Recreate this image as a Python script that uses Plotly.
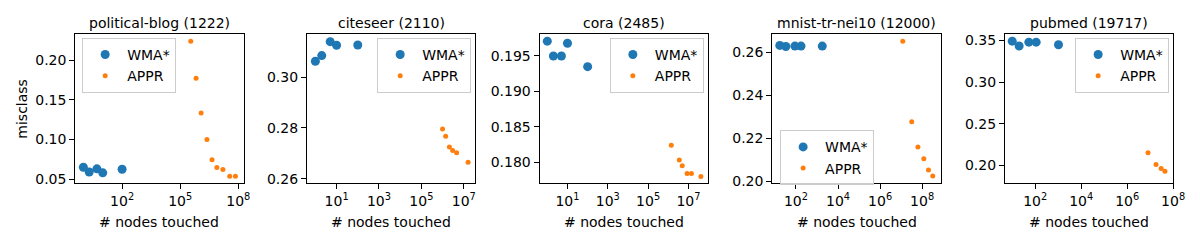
import plotly.graph_objects as go

W, H = 1200, 250

titles = ["political-blog (1222)", "citeseer (2110)", "cora (2485)", "mnist-tr-nei10 (12000)", "pubmed (19717)"]

wma_x = [
    [1, 2, 5, 10, 100],
    [1, 2, 5, 10, 100],
    [1, 2, 5, 10, 100],
    [17, 33, 89, 174, 1780],
    [10, 20, 53, 110, 1030],
]
wma_y = [
    [0.065, 0.059, 0.063, 0.058, 0.0625],
    [0.3063, 0.3085, 0.3140, 0.3126, 0.3127],
    [0.1971, 0.1950, 0.1950, 0.1968, 0.1935],
    [0.2632, 0.2627, 0.2629, 0.2629, 0.2629],
    [0.3493, 0.3435, 0.3481, 0.3481, 0.3450],
]
appr_x = [
    [3.5e5, 6.6e5, 1.2e6, 2.4e6, 4.4e6, 7.8e6, 1.6e7, 3.6e7, 7.1e7],
    [1.0e6, 1.4e6, 2.1e6, 3.0e6, 4.6e6, 1.6e7],
    [1.4e6, 3.5e6, 4.9e6, 8.5e6, 1.4e7, 4.1e7],
    [1.2e7, 3.2e7, 6.3e7, 1.2e8, 2.0e8, 3.2e8],
    [8.1e6, 1.8e7, 3.0e7, 4.4e7],
]
appr_y = [
    [0.2237, 0.1772, 0.1332, 0.1000, 0.0744, 0.0646, 0.0622, 0.0537, 0.0537],
    [0.2796, 0.2767, 0.2725, 0.2711, 0.2702, 0.2665],
    [0.1824, 0.1803, 0.1795, 0.1784, 0.1784, 0.1780],
    [0.2652, 0.2276, 0.2159, 0.2104, 0.2051, 0.2023],
    [0.2152, 0.2012, 0.1965, 0.1930],
]
x_tick_exps = [
    [2, 5, 8],
    [1, 3, 5, 7],
    [1, 3, 5, 7],
    [2, 4, 6, 8],
    [2, 4, 6, 8],
]
y_ticks = [
    [0.05, 0.10, 0.15, 0.20],
    [0.26, 0.28, 0.30],
    [0.180, 0.185, 0.190, 0.195],
    [0.20, 0.22, 0.24, 0.26],
    [0.20, 0.25, 0.30, 0.35],
]
y_fmt = [".2f", ".2f", ".3f", ".2f", ".2f"]

# layout (pixels)
x_ranges = [[-0.42, 8.27], [-0.40, 7.54], [-0.385, 7.96], [0.87, 8.92], [0.68, 8.0]]
y_ranges = [[0.0455, 0.2327], [0.2584, 0.3170], [0.1771, 0.1981], [0.1992, 0.2685], [0.1793, 0.3578]]
box_x = [(76, 246), (310, 480), (545, 715), (780, 951), (1015, 1185)]
box_y = (34, 187)
legend_pos = [(83, 38), (381, 38), (616, 38), (788, 133), (1086, 38)]

BLUE = "#1f77b4"
ORANGE = "#ff7f0e"
FONT = "DejaVu Sans"
FS = 14

fig = go.Figure()
layout = dict(
    width=W, height=H,
    margin=dict(l=0, r=0, t=0, b=0),
    paper_bgcolor="white", plot_bgcolor="white",
    font=dict(family=FONT, size=FS, color="black"),
    annotations=[],
)

def px2fx(p):
    return p / W

def px2fy(p):
    return 1 - p / H

for i in range(5):
    sfx = "" if i == 0 else str(i + 1)
    leg = "legend" if i == 0 else "legend" + str(i + 1)
    xa = "x" + sfx
    ya = "y" + sfx
    fig.add_trace(go.Scatter(
        x=wma_x[i], y=wma_y[i], mode="markers", name="WMA*",
        marker=dict(color=BLUE, size=9, line=dict(width=0)),
        xaxis=xa, yaxis=ya, legend=leg, showlegend=True,
    ))
    fig.add_trace(go.Scatter(
        x=appr_x[i], y=appr_y[i], mode="markers", name="APPR",
        marker=dict(color=ORANGE, size=5, line=dict(width=0)),
        xaxis=xa, yaxis=ya, legend=leg, showlegend=True,
    ))
    axis_common = dict(
        showgrid=False, zeroline=False, showline=True, linecolor="black",
        linewidth=1, mirror=True, ticks="outside", ticklen=5, tickwidth=1,
        tickcolor="black", tickfont=dict(family=FONT, size=FS, color="black"),
    )
    layout["xaxis" + sfx] = dict(
        axis_common, type="log", range=x_ranges[i],
        domain=[px2fx(box_x[i][0]), px2fx(box_x[i][1])],
        anchor=ya,
        tickvals=[10 ** e for e in x_tick_exps[i]],
        ticktext=["10<sup>%d</sup>" % e for e in x_tick_exps[i]],
    )
    layout["yaxis" + sfx] = dict(
        axis_common, range=y_ranges[i],
        domain=[px2fy(box_y[1]), px2fy(box_y[0])],
        anchor=xa,
        tickvals=y_ticks[i],
        tickformat=y_fmt[i],
    )
    cx = (box_x[i][0] + box_x[i][1]) / 2
    layout["annotations"].append(dict(
        text=titles[i], xref="paper", yref="paper", x=px2fx(cx), y=px2fy(22.5),
        xanchor="center", yanchor="middle", showarrow=False,
        font=dict(family=FONT, size=FS, color="black"),
    ))
    layout["annotations"].append(dict(
        text="# nodes touched", xref="paper", yref="paper", x=px2fx(cx), y=px2fy(227),
        xanchor="center", yanchor="middle", showarrow=False,
        font=dict(family=FONT, size=FS, color="black"),
    ))
    lx, ly = legend_pos[i]
    layout[leg] = dict(
        x=px2fx(lx), y=px2fy(ly), xanchor="left", yanchor="top",
        xref="paper", yref="paper",
        bgcolor="rgba(255,255,255,0.8)", bordercolor="#cccccc", borderwidth=1,
        font=dict(family=FONT, size=FS, color="black"),
        itemwidth=34, tracegroupgap=0, entrywidth=60, entrywidthmode="pixels",
    )

layout["annotations"].append(dict(
    text="misclass", xref="paper", yref="paper", x=px2fx(22), y=px2fy(111),
    xanchor="center", yanchor="middle", showarrow=False, textangle=-90,
    font=dict(family=FONT, size=FS, color="black"),
))

fig.update_layout(**layout)
fig.write_html("out.html", post_script="document.body.style.margin='0px';",
               config={"displayModeBar": False})
